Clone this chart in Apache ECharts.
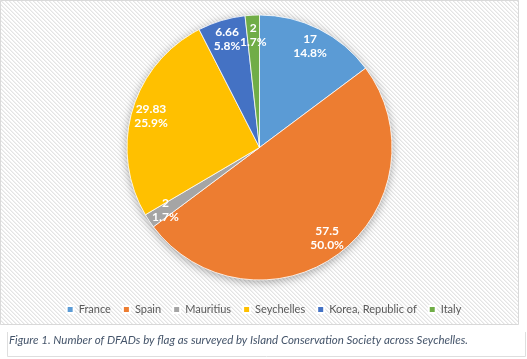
<!DOCTYPE html>
<html>
<head>
<meta charset="utf-8">
<script src="https://cdn.jsdelivr.net/npm/echarts@6/dist/echarts.min.js"></script>
<style>
html,body{margin:0;padding:0;background:#fff;}
#chart{width:527px;height:359px;}
</style>
</head>
<body>
<div id="chart"></div>
<script>
const categories = ['France', 'Spain', 'Mauritius', 'Seychelles', 'Korea, Republic of', 'Italy'];
const values = [17, 57.5, 2, 29.83, 6.66, 2];
const colors = ['#5B9BD5', '#ED7D31', '#A5A5A5', '#FFC000', '#4472C4', '#70AD47'];
const caption = 'Figure 1. Number of DFADs by flag as surveyed by Island Conservation Society across Seychelles.';

const total = values.reduce((a, b) => a + b, 0);

// hatch pattern
const pat = document.createElement('canvas');
pat.width = 4; pat.height = 4;
const pc = pat.getContext('2d');
pc.fillStyle = '#ffffff';
pc.fillRect(0, 0, 4, 4);
for (let i = 0; i < 4; i++) {
  pc.fillStyle = '#e4e4e4';
  pc.fillRect(i, i, 1, 1);
  pc.fillStyle = '#f1f1f1';
  pc.fillRect((i + 1) % 4, i, 1, 1);
}

const chart = echarts.init(document.getElementById('chart'), null, {renderer: 'canvas'});
const data = categories.map((c, i) => ({name: c, value: values[i], itemStyle: {color: colors[i]}}));
const labelData = categories.map((c, i) => ({name: c, value: values[i]}));

chart.setOption({
  backgroundColor: '#ffffff',
  animation: false,
  color: colors,
  graphic: [
    {type: 'rect', z: -10, shape: {x: 0.5, y: 0.5, width: 518, height: 324},
     style: {fill: {image: pat, repeat: 'repeat'}, stroke: '#d9d9d9', lineWidth: 1}},
    {type: 'polyline', z: -10, shape: {points: [[7.5, 332], [7.5, 356.5], [525.5, 356.5], [525.5, 332]]},
     style: {fill: null, stroke: '#dedede', lineWidth: 1}},
    {type: 'text', left: 9, top: 334,
     style: {text: caption, font: 'italic 11.5px Lato', fill: '#44546A'}}
  ],
  legend: {
    data: categories,
    top: 299,
    left: 'center',
    icon: 'rect',
    itemWidth: 7,
    itemHeight: 7,
    itemGap: 11,
    textStyle: {fontFamily: 'Lato', fontSize: 11, color: '#595959'}
  },
  series: [
    {
      type: 'pie', silent: true, center: [259.5, 147.5], radius: 132.5,
      label: {show: false}, labelLine: {show: false}, z: 1,
      data: [{value: 1, itemStyle: {color: '#ffffff', shadowBlur: 10, shadowColor: 'rgba(0,0,0,0.35)', shadowOffsetY: 2}}]
    },
    {
      type: 'pie', name: 'DFADs', center: [259.5, 147.5], radius: 132.5, startAngle: 90,
      clockwise: true, z: 2,
      label: {show: false}, labelLine: {show: false},
      itemStyle: {borderColor: '#ffffff', borderWidth: 0.75},
      data: data
    },
    {
      type: 'pie', silent: true, center: [259.5, 147.5], radius: 220, startAngle: 90,
      clockwise: true, z: 3, legendHoverLink: false,
      avoidLabelOverlap: false, minShowLabelAngle: 0,
      labelLayout: {hideOverlap: false},
      itemStyle: {color: 'transparent'},
      labelLine: {show: false},
      label: {
        show: true, position: 'inside', color: '#ffffff',
        fontFamily: 'Lato', fontSize: 12, fontWeight: 'bold', lineHeight: 14,
        formatter: p => p.value + '\n' + (p.value / total * 100).toFixed(1) + '%'
      },
      data: labelData.map(d => ({name: d.name + ' ', value: d.value}))
    }
  ]
});
</script>
</body>
</html>
